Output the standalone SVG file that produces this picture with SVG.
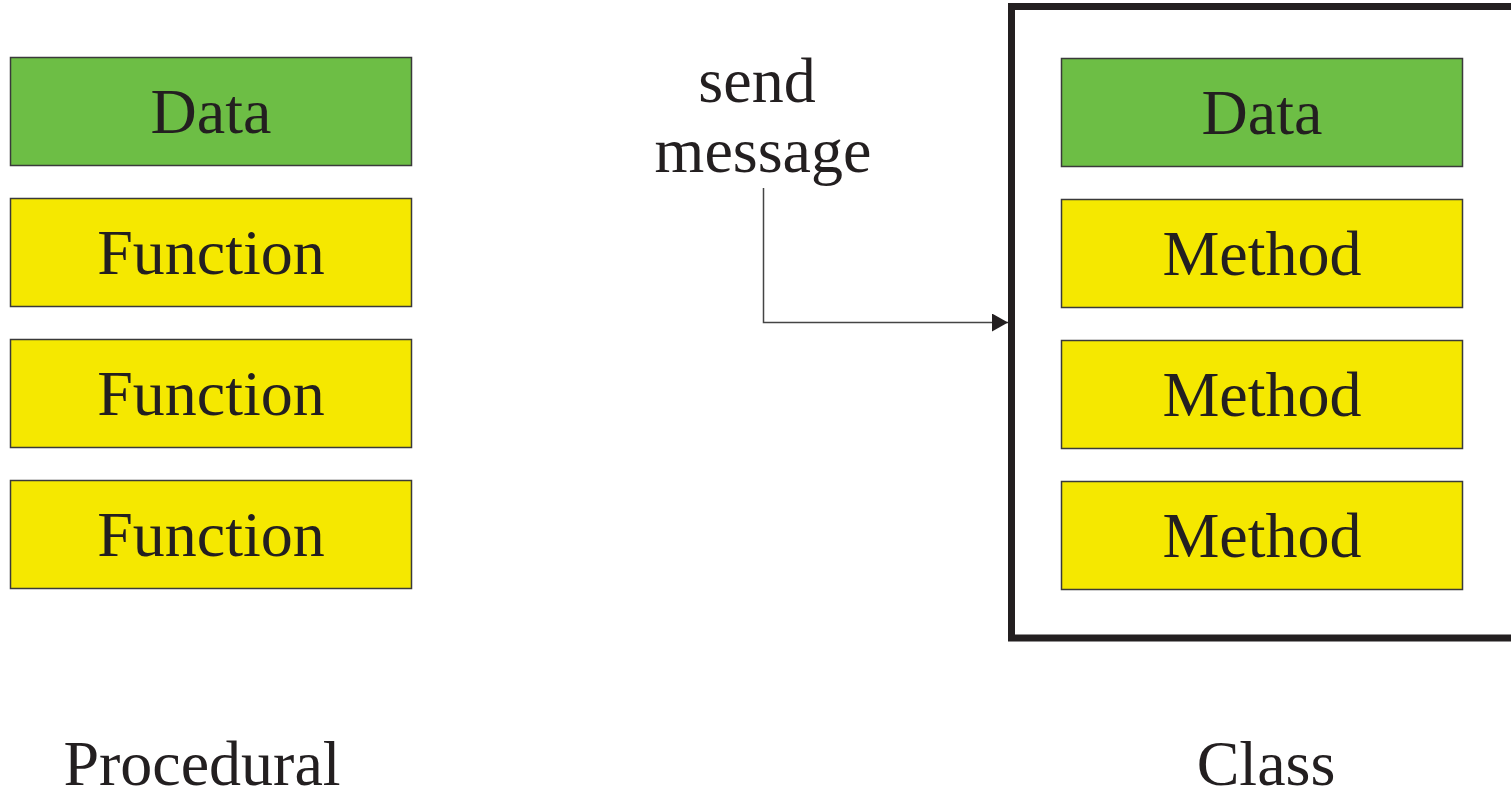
<svg xmlns="http://www.w3.org/2000/svg" width="1511" height="788" viewBox="0 0 1511 788">
<style>
text{font-family:"Liberation Serif","Times New Roman",serif;font-size:64px;fill:#231f20;text-anchor:middle}
.g{fill:#6dbe45;stroke:#3a3a3a;stroke-width:1.5}
.y{fill:#f5e800;stroke:#3a3a3a;stroke-width:1.5}
</style>
<defs>
<marker id="ah" markerWidth="16" markerHeight="18" refX="16" refY="9" orient="auto" markerUnits="userSpaceOnUse">
<path d="M0,0 L16,9 L0,18 Z" fill="#231f20"/>
</marker>
</defs>
<g id="proc-data"><rect class="g" x="10.5" y="57.5" width="401" height="108"/><text x="211" y="133">Data</text></g>
<g id="proc-f1"><rect class="y" x="10.5" y="198.5" width="401" height="108"/><text x="211" y="274">Function</text></g>
<g id="proc-f2"><rect class="y" x="10.5" y="339.5" width="401" height="108"/><text x="211" y="415">Function</text></g>
<g id="proc-f3"><rect class="y" x="10.5" y="480.5" width="401" height="108"/><text x="211" y="556">Function</text></g>
<g id="procedural-label"><text x="202" y="785">Procedural</text></g>
<g id="class">
<path d="M1511,6.5 H1011.5 V638 H1511" fill="none" stroke="#231f20" stroke-width="7"/>
</g>
<g id="class-data"><rect class="g" x="1061.5" y="58.5" width="401" height="108"/><text x="1262" y="134">Data</text></g>
<g id="class-m1"><rect class="y" x="1061.5" y="199.5" width="401" height="108"/><text x="1262" y="275">Method</text></g>
<g id="class-m2"><rect class="y" x="1061.5" y="340.5" width="401" height="108"/><text x="1262" y="416">Method</text></g>
<g id="class-m3"><rect class="y" x="1061.5" y="481.5" width="401" height="108"/><text x="1262" y="557">Method</text></g>
<g id="class-label"><text x="1266" y="785">Class</text></g>
<g id="message-label"><text x="757" y="102">send</text><text x="763" y="172">message</text></g>
<g id="connectors">
<path d="M763.5,188 V322.5 H1008" fill="none" stroke="#444" stroke-width="1.5" marker-end="url(#ah)"/>
</g>
</svg>
